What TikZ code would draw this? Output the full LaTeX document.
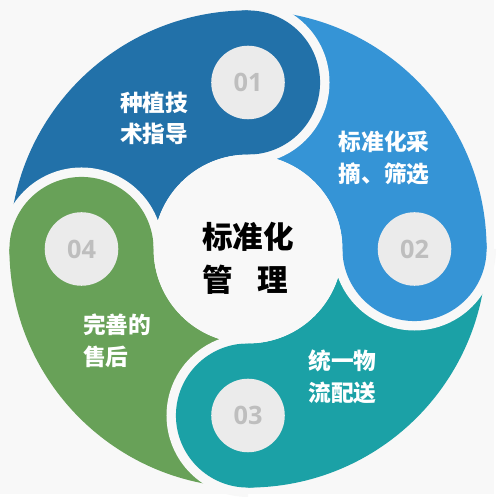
\documentclass[tikz,border=0pt]{standalone}
\usepackage{fontspec}
\setmainfont{Noto Sans CJK SC}
\newfontfamily\numfont{Open Sans}
\usetikzlibrary{positioning}
\definecolor{bgc}{HTML}{F8F8F8}
\definecolor{segA}{HTML}{2271A9}
\definecolor{segB}{HTML}{3594D6}
\definecolor{segC}{HTML}{1BA1A6}
\definecolor{segD}{HTML}{68A158}
\definecolor{dotc}{HTML}{EBEBEB}
\definecolor{digc}{HTML}{BEBEBE}

\begin{document}
\begin{tikzpicture}[
        numdot/.style={circle, fill=dotc, minimum size=1.48cm, inner sep=0pt,
            font=\numfont\bfseries\fontsize{14.5}{14.5}\selectfont, text=digc},
        steptext/.style={align=left, text=white,
            font=\bfseries\fontsize{13}{18}\selectfont},
        hub/.style={align=left, inner sep=0pt,
            font=\bfseries\fontsize{17.5}{24.5}\selectfont}
    ]
        \fill[bgc] (-4.99,-4.93) rectangle (4.95,5.01);

        \foreach \a/\c in {90/segA, 0/segB, -90/segC, 180/segD} {
            \fill[\c] (\a:4.8) arc[start angle=\a, end angle={\a+90}, radius=4.8]
                -- ({\a+90}:1.9) arc[start angle={\a+90}, end angle=\a, radius=1.9] -- cycle;
        }
        \foreach \a in {90, 0, -90, 180} {
            \fill[bgc] (\a:3.35) ++(\a:1.64) arc[start angle=\a, end angle={\a-180}, radius=1.64] -- cycle;
        }
        \foreach \a/\c in {90/segA, 0/segB, -90/segC, 180/segD} {
            \fill[\c] (\a:3.35) circle (1.45);
        }
        \fill[bgc] (0,0) circle (1.9);

        \node[hub] (hub) at (0,-0.18) {标准化\\管\hspace{0.8em}理};

        \foreach \i/\a in {1/90, 2/0, 3/-90, 4/180} {
            \node[numdot] (n\i) at (\a:3.35) {0\i};
        }

        \node[steptext] (t1) at (-1.89,2.63) {种植技\\术指导};
        \node[steptext] (t2) at (2.74,1.83) {标准化采\\摘、筛选};
        \node[steptext] (t3) at (1.9,-2.57) {统一物\\流配送};
        \node[steptext] (t4) at (-2.63,-1.85) {完善的\\售后};
    \end{tikzpicture}
\end{document}
